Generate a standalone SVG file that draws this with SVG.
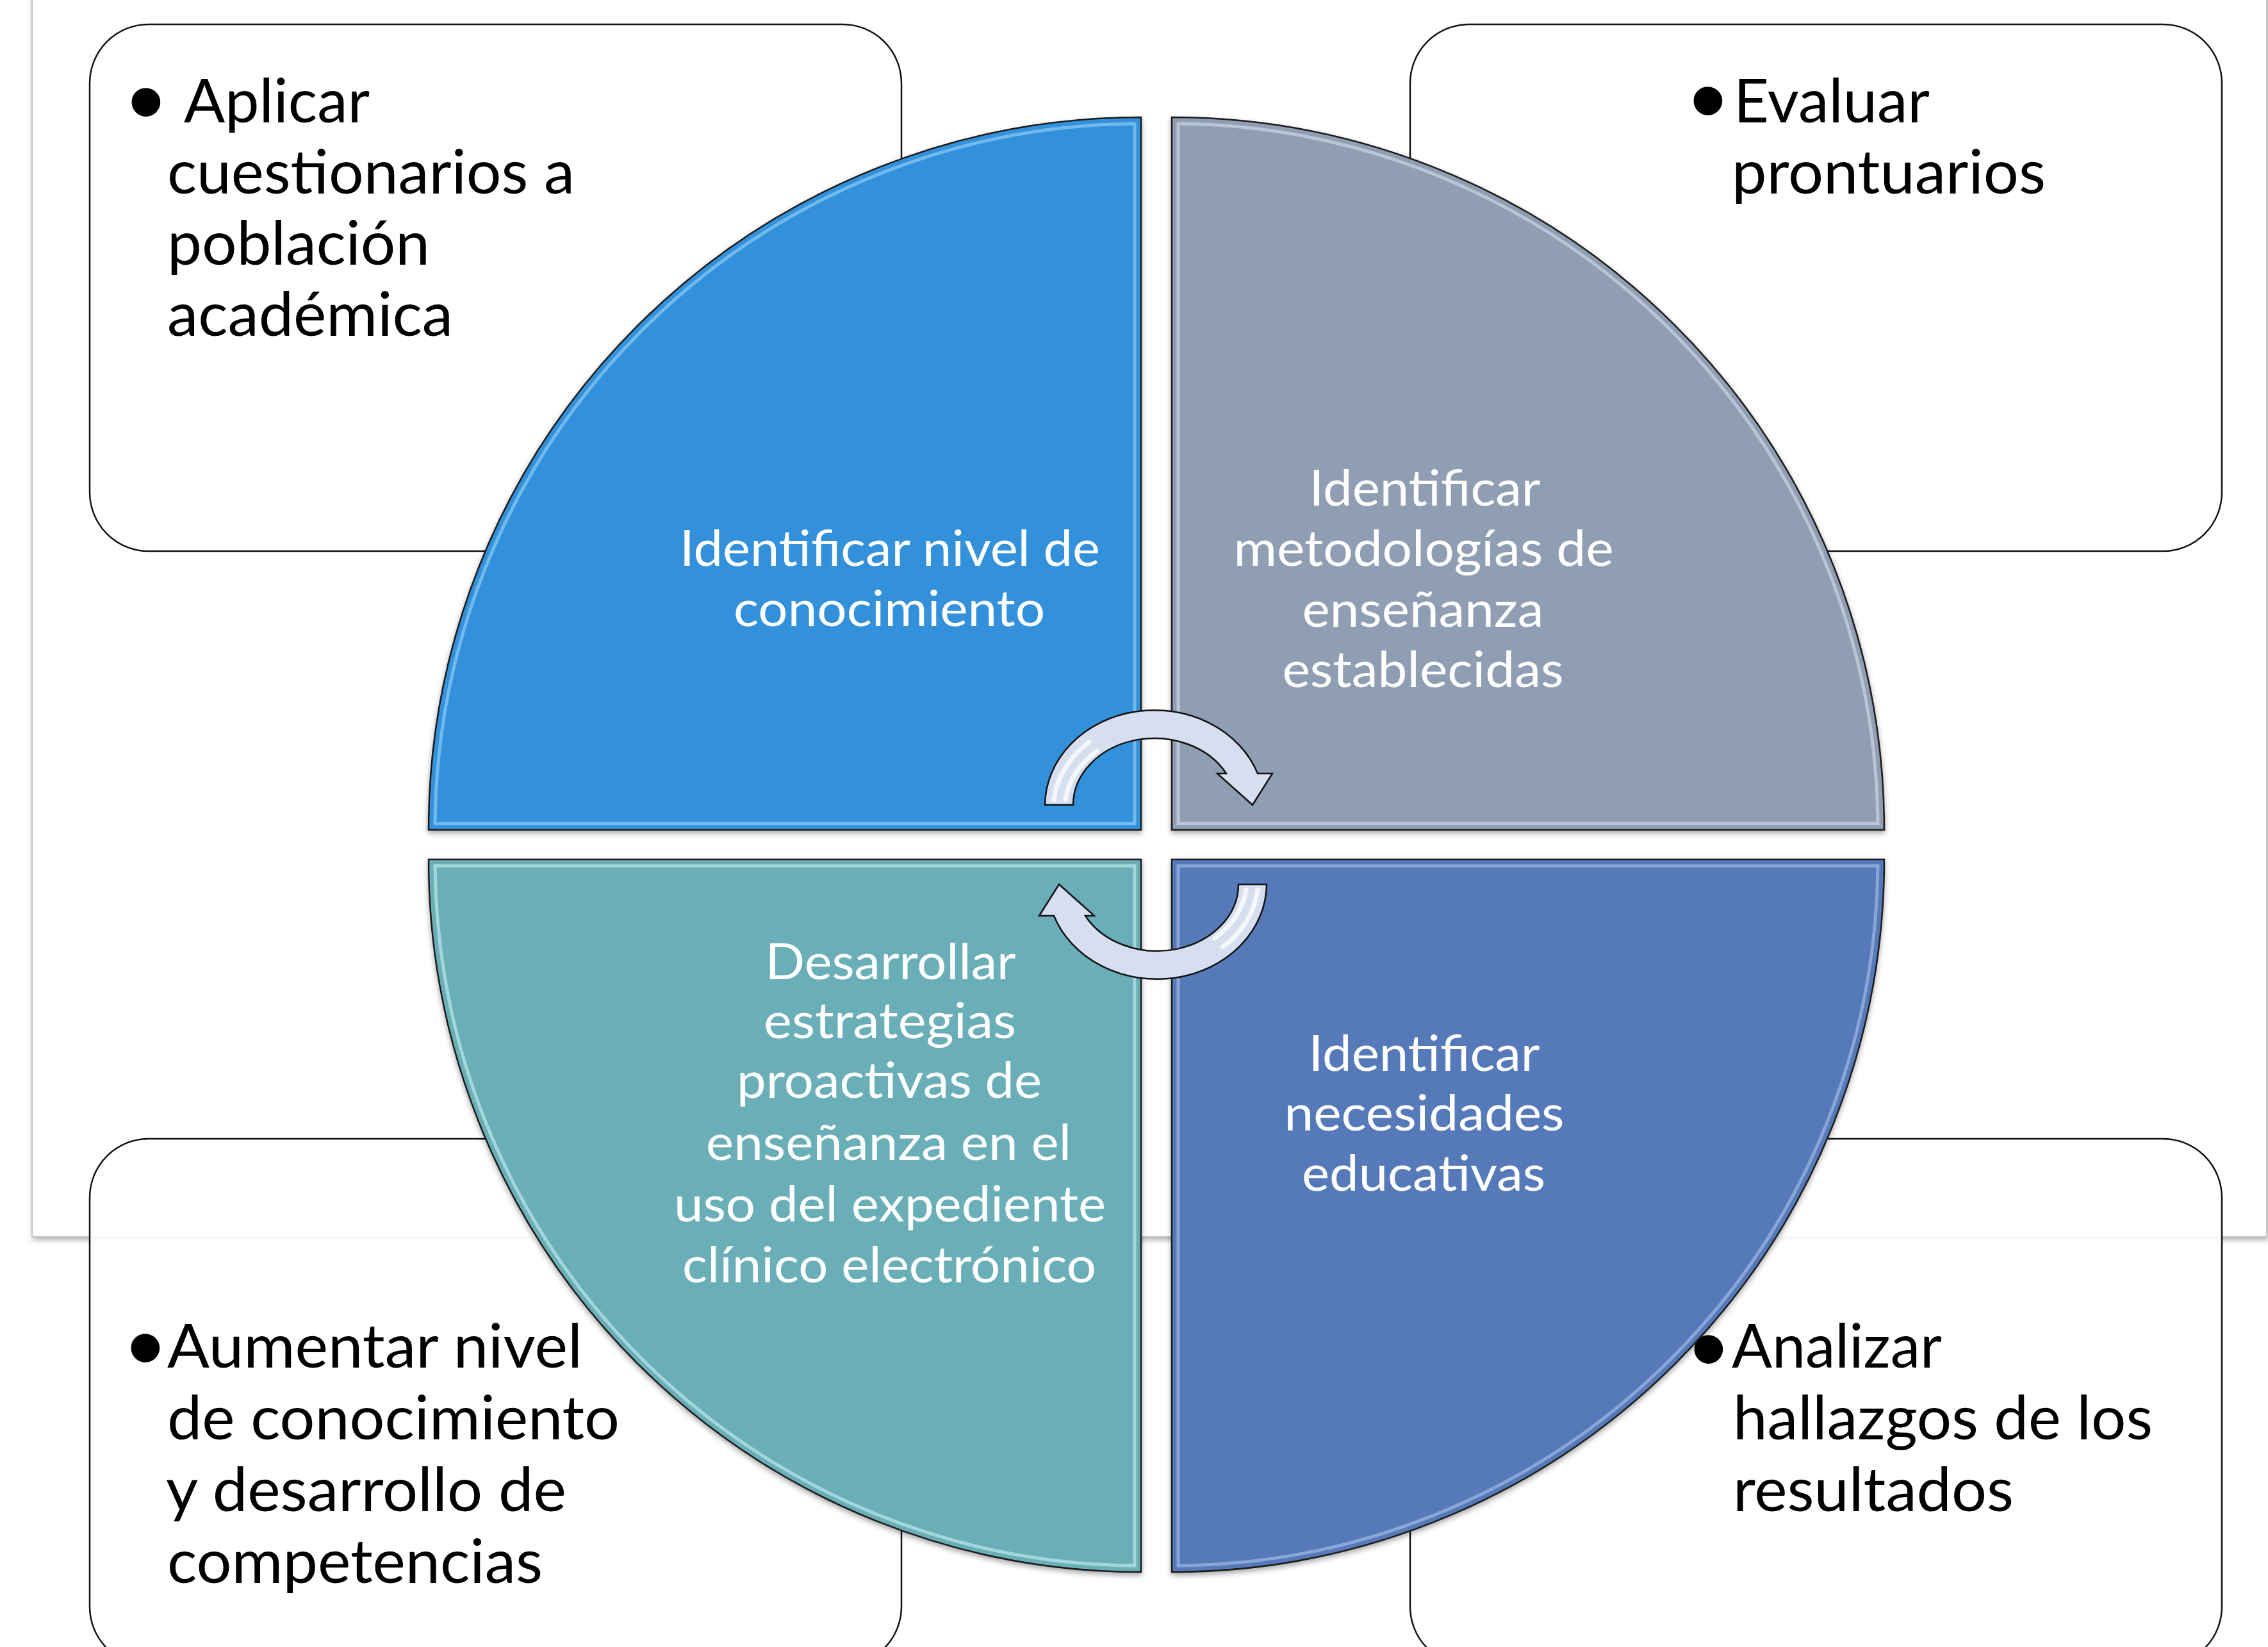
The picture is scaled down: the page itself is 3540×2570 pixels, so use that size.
<svg xmlns="http://www.w3.org/2000/svg" width="3540" height="2570" viewBox="0 0 3540 2570">
<defs>
<style>
.box{fill:#ffffff;fill-opacity:0.9;stroke:#111;stroke-width:2.5}
.btxt{font-family:Lato,"Liberation Sans",sans-serif;font-size:95px;fill:#000}
.bul{font-family:"Liberation Sans",sans-serif;font-size:165px;fill:#000}
.qtxt{font-family:Lato,"Liberation Sans",sans-serif;font-size:78px;fill:#fff;text-anchor:middle}
.quad{stroke:#1a1a1a;stroke-width:2.5}
.hl{fill:none;stroke-width:5;stroke-opacity:0.55}
.arr{fill:#d6dff0;stroke:#111;stroke-width:2.5;stroke-linejoin:miter}
.arrhl{fill:none;stroke:#ffffff;stroke-width:7;stroke-opacity:0.75;stroke-linecap:round}
</style>
<filter id="sh" x="-5%" y="-5%" width="110%" height="110%">
<feDropShadow dx="0" dy="4" stdDeviation="4" flood-color="#000" flood-opacity="0.35"/>
</filter>
<filter id="bgsh" x="-2%" y="-2%" width="104%" height="104%">
<feDropShadow dx="2" dy="4" stdDeviation="4" flood-color="#000" flood-opacity="0.3"/>
</filter>
</defs>

<rect x="0" y="0" width="3540" height="2570" fill="#ffffff"/>
<rect id="background" x="50" y="-20" width="3488" height="1950" fill="#ffffff" stroke="#c4c4c4" stroke-width="2" filter="url(#bgsh)"/>

<g id="box-tl">
<rect class="box" x="140" y="38" width="1267" height="822" rx="92" ry="92"/>
<text class="bul" x="199" y="214">•</text>
<text class="btxt" x="287" y="191" textLength="290" lengthAdjust="spacingAndGlyphs">Aplicar</text>
<text class="btxt" x="261" y="302" textLength="636" lengthAdjust="spacingAndGlyphs">cuestionarios a</text>
<text class="btxt" x="261" y="413" textLength="410" lengthAdjust="spacingAndGlyphs">población</text>
<text class="btxt" x="261" y="524" textLength="446" lengthAdjust="spacingAndGlyphs">académica</text>
</g>

<g id="box-tr">
<rect class="box" x="2201" y="38" width="1267" height="822" rx="92" ry="92"/>
<text class="bul" x="2637" y="212">•</text>
<text class="btxt" x="2706" y="191" textLength="306" lengthAdjust="spacingAndGlyphs">Evaluar</text>
<text class="btxt" x="2703" y="302" textLength="490" lengthAdjust="spacingAndGlyphs">prontuarios</text>
</g>

<g id="box-bl">
<rect class="box" x="140" y="1777" width="1267" height="822" rx="92" ry="92"/>
<text class="bul" x="198" y="2158">•</text>
<text class="btxt" x="261" y="2134" textLength="648" lengthAdjust="spacingAndGlyphs">Aumentar nivel</text>
<text class="btxt" x="261" y="2246" textLength="706" lengthAdjust="spacingAndGlyphs">de conocimiento</text>
<text class="btxt" x="259" y="2358" textLength="625" lengthAdjust="spacingAndGlyphs">y desarrollo de</text>
<text class="btxt" x="261" y="2470" textLength="586" lengthAdjust="spacingAndGlyphs">competencias</text>
</g>

<g id="box-br">
<rect class="box" x="2201" y="1777" width="1267" height="822" rx="92" ry="92"/>
<text class="bul" x="2638" y="2160">•</text>
<text class="btxt" x="2703" y="2134" textLength="328" lengthAdjust="spacingAndGlyphs">Analizar</text>
<text class="btxt" x="2705" y="2246" textLength="655" lengthAdjust="spacingAndGlyphs">hallazgos de los</text>
<text class="btxt" x="2705" y="2358" textLength="438" lengthAdjust="spacingAndGlyphs">resultados</text>
</g>

<g id="quad-tl">
<path class="quad" fill="#3291da" filter="url(#sh)" d="M1781,1295 L669,1295 A1112,1112 0 0 1 1781,183 Z"/>
<path class="hl" stroke="#a8dcff" d="M1771,1285 L679,1285 A1102,1102 0 0 1 1771,193 Z"/>
<text class="qtxt" x="1389" y="883" textLength="656" lengthAdjust="spacingAndGlyphs">Identificar nivel de</text>
<text class="qtxt" x="1388" y="977" textLength="486" lengthAdjust="spacingAndGlyphs">conocimiento</text>
</g>

<g id="quad-tr">
<path class="quad" fill="#909eb4" filter="url(#sh)" d="M1829,1295 L1829,183 A1112,1112 0 0 1 2941,1295 Z"/>
<path class="hl" stroke="#dde3ee" d="M1839,1285 L1839,193 A1102,1102 0 0 1 2931,1285 Z"/>
<text class="qtxt" x="2224" y="789" textLength="361" lengthAdjust="spacingAndGlyphs">Identificar</text>
<text class="qtxt" x="2222" y="883" textLength="593" lengthAdjust="spacingAndGlyphs">metodologías de</text>
<text class="qtxt" x="2221" y="978" textLength="377" lengthAdjust="spacingAndGlyphs">enseñanza</text>
<text class="qtxt" x="2221" y="1072" textLength="439" lengthAdjust="spacingAndGlyphs">establecidas</text>
</g>

<g id="quad-bl">
<path class="quad" fill="#6bafb8" filter="url(#sh)" d="M1781,1341 L1781,2453 A1112,1112 0 0 1 669,1341 Z"/>
<path class="hl" stroke="#d2f8fb" d="M1771,1351 L1771,2443 A1102,1102 0 0 1 679,1351 Z"/>
<text class="qtxt" x="1390" y="1528" textLength="391" lengthAdjust="spacingAndGlyphs">Desarrollar</text>
<text class="qtxt" x="1389" y="1620" textLength="394" lengthAdjust="spacingAndGlyphs">estrategias</text>
<text class="qtxt" x="1388" y="1713" textLength="476" lengthAdjust="spacingAndGlyphs">proactivas de</text>
<text class="qtxt" x="1387" y="1810" textLength="570" lengthAdjust="spacingAndGlyphs">enseñanza en el</text>
<text class="qtxt" x="1389" y="1906" textLength="674" lengthAdjust="spacingAndGlyphs">uso del expediente</text>
<text class="qtxt" x="1388" y="2001" textLength="646" lengthAdjust="spacingAndGlyphs">clínico electrónico</text>
</g>

<g id="quad-br">
<path class="quad" fill="#577ab9" filter="url(#sh)" d="M1829,1341 L2941,1341 A1112,1112 0 0 1 1829,2453 Z"/>
<path class="hl" stroke="#b7c9f0" d="M1839,1351 L2931,1351 A1102,1102 0 0 1 1839,2443 Z"/>
<text class="qtxt" x="2223" y="1671" textLength="361" lengthAdjust="spacingAndGlyphs">Identificar</text>
<text class="qtxt" x="2223" y="1764" textLength="437" lengthAdjust="spacingAndGlyphs">necesidades</text>
<text class="qtxt" x="2222" y="1858" textLength="380" lengthAdjust="spacingAndGlyphs">educativas</text>
</g>

<g id="connectors">
<g id="arrow-top">
<path class="arr" d="M1631,1256 A171,149 0 0 1 1963,1207 L1986,1207 L1955,1256 L1900,1207 L1914,1207 A127,104 0 0 0 1675,1256 Z"/>
<path class="arrhl" d="M1645,1248 A157,137 0 0 1 1700,1158"/>
<path class="arrhl" d="M1663,1248 A141,120 0 0 1 1712,1172" stroke-opacity="0.5" stroke-width="4"/>
</g>
<g id="arrow-bottom" transform="rotate(180 1804 1318)">
<path class="arr" d="M1631,1256 A171,149 0 0 1 1963,1207 L1986,1207 L1955,1256 L1900,1207 L1914,1207 A127,104 0 0 0 1675,1256 Z"/>
<path class="arrhl" d="M1645,1248 A157,137 0 0 1 1700,1158"/>
<path class="arrhl" d="M1663,1248 A141,120 0 0 1 1712,1172" stroke-opacity="0.5" stroke-width="4"/>
</g>
</g>
</svg>
